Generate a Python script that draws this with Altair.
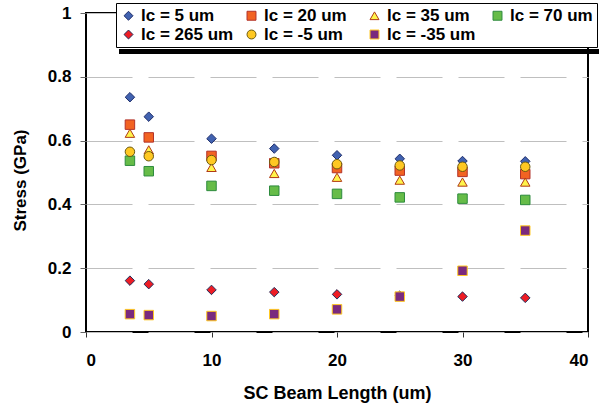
import altair as alt
import pandas as pd

x_vals = [3.5, 5, 10, 15, 20, 25, 30, 35]
series_names = ["lc = 5 um", "lc = 20 um", "lc = 35 um", "lc = 70 um",
                "lc = 265 um", "lc = -5 um", "lc = -35 um"]
lc5 = [0.736, 0.675, 0.606, 0.575, 0.554, 0.543, 0.536, 0.535]
lc20 = [0.650, 0.610, 0.552, 0.529, 0.514, 0.506, 0.502, 0.495]
lc35 = [0.623, 0.571, 0.516, 0.497, 0.485, 0.476, 0.470, 0.470]
lc70 = [0.537, 0.504, 0.458, 0.443, 0.433, 0.422, 0.418, 0.414]
lc265 = [0.161, 0.150, 0.132, 0.125, 0.118, 0.114, 0.111, 0.107]
lcm5 = [0.565, 0.551, 0.539, 0.533, 0.526, 0.522, 0.518, 0.518]
lcm35 = [0.056, 0.053, 0.050, 0.056, 0.071, 0.111, 0.192, 0.318]

all_series = [lc5, lc20, lc35, lc70, lc265, lcm5, lcm35]
shapes = ["diamond", "square", "triangle-up", "square", "diamond", "circle", "square"]
fills = ["#4162B0", "#F26322", "#FFF44A", "#66BC48", "#EE1C24", "#FFC822", "#7A2A7E"]
strokes = ["#1F2E6B", "#B2322A", "#B03A16", "#2E8B3E", "#1F2E5B", "#6B5A10", "#FFC822"]

rows = []
for i, (name, vals) in enumerate(zip(series_names, all_series)):
    for xv, yv in zip(x_vals, vals):
        rows.append({"series": name, "order": i, "x": xv, "y": yv})
df = pd.DataFrame(rows)

FONT = "Liberation Sans"

points = alt.Chart(df).mark_point(filled=True, size=90, strokeWidth=1, opacity=1).encode(
    x=alt.X("x:Q", scale=alt.Scale(domain=[0, 40]),
            axis=alt.Axis(values=[0, 10, 20, 30, 40], title="SC Beam Length (um)",
                          grid=False, domain=False, tickSize=5, tickColor="#333333",
                          labelFontSize=17, labelFontWeight="bold", labelFont=FONT,
                          labelColor="black", labelPadding=15,
                          titleFontSize=18, titleFontWeight="bold", titleFont=FONT,
                          titleColor="black", titleX=251, titleY=61,
                          titleBaseline="middle", titleAlign="center")),
    y=alt.Y("y:Q", scale=alt.Scale(domain=[0, 1]),
            axis=alt.Axis(values=[0, 0.2, 0.4, 0.6, 0.8, 1], format=".1~f",
                          title="Stress (GPa)", grid=True, gridColor="#BFBFBF",
                          gridDash=[46, 16], gridWidth=1, domain=False,
                          tickSize=6, tickColor="#666666",
                          labelFontSize=17, labelFontWeight="bold", labelFont=FONT,
                          labelColor="black", labelPadding=9,
                          titleFontSize=17, titleFontWeight="bold", titleFont=FONT,
                          titleColor="black", titleX=-66, titleY=167,
                          titleAngle=270, titleBaseline="middle", titleAlign="center")),
    shape=alt.Shape("series:N", scale=alt.Scale(domain=series_names, range=shapes)),
    fill=alt.Fill("series:N", scale=alt.Scale(domain=series_names, range=fills)),
    stroke=alt.Stroke("series:N", scale=alt.Scale(domain=series_names, range=strokes)),
    order=alt.Order("order:Q"),
)

shadow = alt.Chart(pd.DataFrame([{"a": 1}])).mark_rect(
    color="black", clip=False, opacity=1
).encode(
    x=alt.value(33), x2=alt.value(513), y=alt.value(36), y2=alt.value(41)
)

chart = alt.layer(shadow, points).resolve_legend(
    shape="shared", fill="shared", stroke="shared"
).properties(
    width=502, height=319,
    autosize=alt.AutoSizeParams(type="none"),
    padding={"left": 86, "top": 13, "right": 12, "bottom": 76},
).configure_view(
    stroke="black", strokeWidth=2
).configure_legend(
    orient="none", legendX=30, legendY=-10, columns=4, direction="horizontal",
    title=None,
    fillColor="white", strokeColor="black", strokeWidth=1, padding=4,
    labelFontSize=17, labelFontWeight="bold", labelFont=FONT, labelColor="black",
    symbolSize=80, labelOffset=4, columnPadding=9, rowPadding=1,
    gridAlign="all", symbolStrokeWidth=1, cornerRadius=0,
).configure_axis(tickWidth=1)

chart.save("out.html", embed_options={"renderer": "svg", "actions": False})
